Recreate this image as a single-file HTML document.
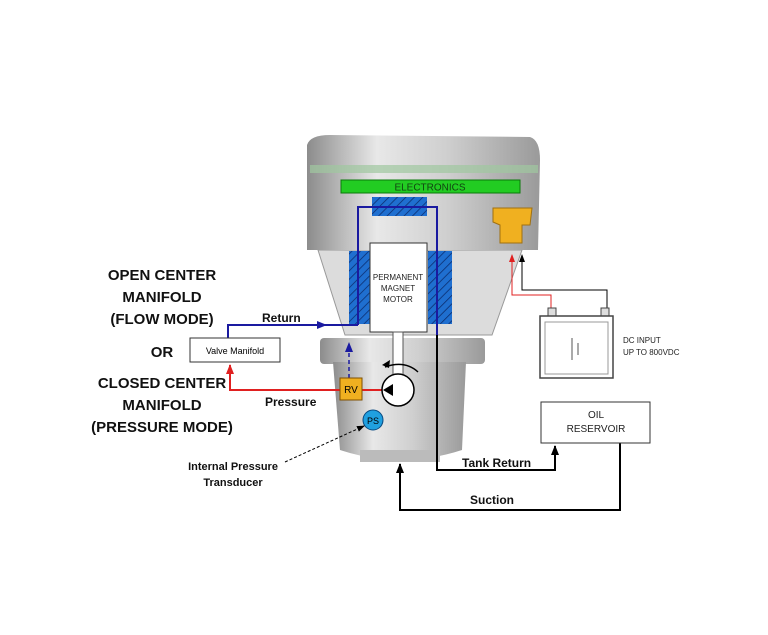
<!DOCTYPE html>
<html><head><style>body{margin:0;background:#fff}svg{display:block}text{font-family:"Liberation Sans",sans-serif}</style></head><body>
<svg width="768" height="635" viewBox="0 0 768 635" xmlns="http://www.w3.org/2000/svg">
<defs>
<linearGradient id="m" x1="0" x2="1"><stop offset="0" stop-color="#8c8c8c"/><stop offset=".3" stop-color="#e8e8e8"/><stop offset=".6" stop-color="#cfcfcf"/><stop offset="1" stop-color="#9a9a9a"/></linearGradient>
<pattern id="h" width="6" height="6" patternUnits="userSpaceOnUse" patternTransform="rotate(45)"><rect width="6" height="6" fill="#1f6fd0"/><line x1="0" y1="0" x2="0" y2="6" stroke="#0b2a6a" stroke-width="1.5"/></pattern>
<marker id="ab" markerUnits="userSpaceOnUse" markerWidth="10" markerHeight="10" refX="9" refY="5" orient="auto"><path d="M0,1L10,5L0,9z" fill="#1a1aa0"/></marker>
<marker id="ar" markerUnits="userSpaceOnUse" markerWidth="10" markerHeight="10" refX="9" refY="5" orient="auto"><path d="M0,1L10,5L0,9z" fill="#e02020"/></marker>
<marker id="ak" markerUnits="userSpaceOnUse" markerWidth="10" markerHeight="10" refX="9" refY="5" orient="auto"><path d="M0,1L10,5L0,9z" fill="#000"/></marker>
<marker id="aks" markerUnits="userSpaceOnUse" markerWidth="8" markerHeight="8" refX="7" refY="4" orient="auto"><path d="M0,1L8,4L0,7z" fill="#000"/></marker>
<marker id="ars" markerUnits="userSpaceOnUse" markerWidth="8" markerHeight="8" refX="7" refY="4" orient="auto"><path d="M0,1L8,4L0,7z" fill="#e02020"/></marker>
</defs>
<path d="M318,250 L522,250 L492,335 L345,335 Z" fill="#dcdcdc" stroke="#999"/>
<rect x="320" y="338" width="165" height="26" rx="4" fill="url(#m)"/>
<path d="M333,362 L466,362 L462,450 Q400,470 340,450 Z" fill="url(#m)"/>
<rect x="360" y="450" width="80" height="12" fill="#bbb"/>
<path d="M307,145 Q310,135 330,135 L530,137 Q540,140 540,160 L538,250 L307,250 Z" fill="url(#m)"/>
<rect x="310" y="165" width="228" height="8" fill="#9fc79f" opacity=".7"/>
<rect x="341" y="180" width="179" height="13" fill="#22cc22" stroke="#0a7a0a"/>
<text x="430" y="190.5" font-size="10" text-anchor="middle" fill="#114411">ELECTRONICS</text>
<rect x="372" y="197" width="55" height="19" fill="url(#h)"/>
<rect x="349" y="251" width="21" height="73" fill="url(#h)"/>
<rect x="428" y="251" width="24" height="73" fill="url(#h)"/>
<rect x="370" y="243" width="57" height="89" fill="#fff" stroke="#333"/>
<text font-size="8" text-anchor="middle" fill="#222"><tspan x="398" y="280">PERMANENT</tspan><tspan x="398" y="291">MAGNET</tspan><tspan x="398" y="302">MOTOR</tspan></text>
<rect x="393" y="332" width="10" height="45" fill="#fff" stroke="#555"/>
<path d="M493,208 L532,208 L530,225 L522,225 L522,243 L500,243 L500,225 L493,222 Z" fill="#f0b020" stroke="#a07010"/>
<polyline points="358,325 358,207 437,207 437,335" fill="none" stroke="#1a1aa0" stroke-width="2"/>
<polyline points="437,335 437,470 555,470 555,446" fill="none" stroke="#000" stroke-width="2" marker-end="url(#ak)"/>
<polyline points="228,338 228,325 358,325" fill="none" stroke="#1a1aa0" stroke-width="2"/>
<line x1="300" y1="325" x2="326" y2="325" stroke="#1a1aa0" stroke-width="2" marker-end="url(#ab)"/>
<line x1="349" y1="378" x2="349" y2="343" stroke="#1a1aa0" stroke-width="1.5" stroke-dasharray="4,3" marker-end="url(#ab)"/>
<polyline points="383,390 230,390 230,365" fill="none" stroke="#e02020" stroke-width="2" marker-end="url(#ar)"/>
<path d="M385,367 Q405,360 418,372" fill="none" stroke="#000" stroke-width="1.5"/>
<path d="M382,365 l8,-5 l-1,8z" fill="#000"/>
<circle cx="398" cy="390" r="16" fill="#fff" stroke="#000" stroke-width="1.5"/>
<path d="M383,390 L393,384 L393,396 Z" fill="#000"/>
<rect x="340" y="378" width="22" height="22" fill="#f0b020" stroke="#805000"/>
<text x="351" y="393" font-size="10" text-anchor="middle">RV</text>
<circle cx="373" cy="420" r="10" fill="#20a0e0" stroke="#0a4a80"/>
<text x="373" y="424" font-size="9" text-anchor="middle" fill="#000">PS</text>
<line x1="285" y1="462" x2="364" y2="426" stroke="#000" stroke-width="1" stroke-dasharray="3,2" marker-end="url(#aks)"/>
<polyline points="620,443 620,510 400,510 400,464" fill="none" stroke="#000" stroke-width="2" marker-end="url(#ak)"/>
<polyline points="607,315 607,290 522,290 522,255" fill="none" stroke="#000" stroke-width="1" marker-end="url(#aks)"/>
<polyline points="551,315 551,295 512,295 512,255" fill="none" stroke="#e02020" stroke-width="1" marker-end="url(#ars)"/>
<rect x="548" y="308" width="8" height="8" fill="#ddd" stroke="#444"/>
<rect x="601" y="308" width="8" height="8" fill="#ddd" stroke="#444"/>
<rect x="540" y="316" width="73" height="62" fill="#fff" stroke="#444" stroke-width="1.5"/>
<rect x="545" y="322" width="63" height="52" fill="none" stroke="#999"/>
<line x1="572" y1="338" x2="572" y2="360" stroke="#555"/><line x1="578" y1="343" x2="578" y2="355" stroke="#555"/>
<text font-size="8" fill="#222"><tspan x="623" y="343">DC INPUT</tspan><tspan x="623" y="355">UP TO 800VDC</tspan></text>
<rect x="541" y="402" width="109" height="41" fill="#fff" stroke="#333"/>
<text font-size="10" text-anchor="middle" fill="#222"><tspan x="596" y="418">OIL</tspan><tspan x="596" y="432">RESERVOIR</tspan></text>
<rect x="190" y="338" width="90" height="24" fill="#fff" stroke="#333"/>
<text x="235" y="354" font-size="9" text-anchor="middle">Valve Manifold</text>
<g font-weight="bold" fill="#111">
<text font-size="15" text-anchor="middle"><tspan x="162" y="280">OPEN CENTER</tspan><tspan x="162" y="302">MANIFOLD</tspan><tspan x="162" y="324">(FLOW MODE)</tspan><tspan x="162" y="357">OR</tspan><tspan x="162" y="388">CLOSED CENTER</tspan><tspan x="162" y="410">MANIFOLD</tspan><tspan x="162" y="432">(PRESSURE MODE)</tspan></text>
<text x="262" y="322" font-size="12">Return</text>
<text x="265" y="406" font-size="12">Pressure</text>
<text font-size="11" text-anchor="middle"><tspan x="233" y="470">Internal Pressure</tspan><tspan x="233" y="486">Transducer</tspan></text>
<text x="462" y="467" font-size="12">Tank Return</text>
<text x="470" y="504" font-size="12">Suction</text>
</g>
</svg>
</body></html>
